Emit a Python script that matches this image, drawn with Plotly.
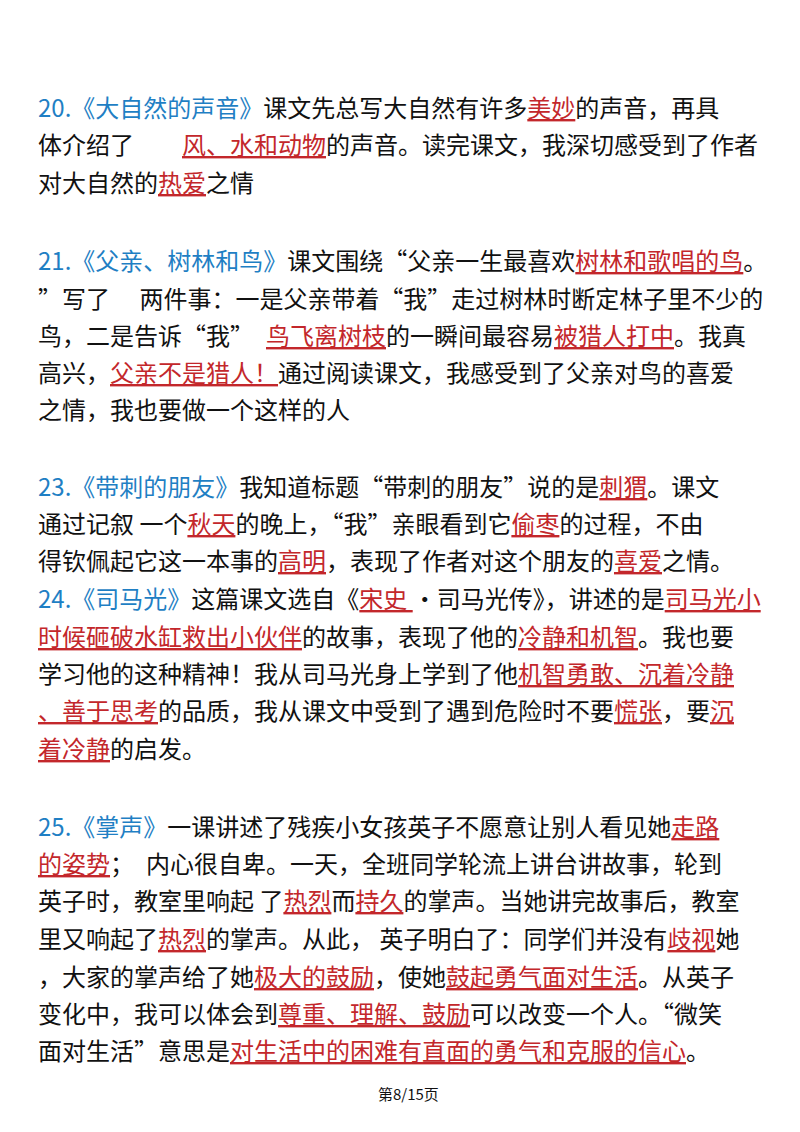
import plotly.graph_objects as go
import re

BLUE = "#1f7fc4"
RED = "#c3272b"
BLACK = "#111111"

lines = [
    "[20.《大自然的声音》]课文先总写大自然有许多{美妙}的声音，再具",
    "体介绍了　　{风、水和动物}的声音。读完课文，我深切感受到了作者",
    "对大自然的{热爱}之情",
    "[21.《父亲、树林和鸟》]课文围绕“父亲一生最喜欢{树林和歌唱的鸟}。",
    "”写了　 两件事：一是父亲带着“我”走过树林时断定林子里不少的",
    "鸟，二是告诉“我”　{鸟飞离树枝}的一瞬间最容易{被猎人打中}。我真",
    "高兴，{父亲不是猎人！}通过阅读课文，我感受到了父亲对鸟的喜爱",
    "之情，我也要做一个这样的人",
    "[23.《带刺的朋友》]我知道标题“带刺的朋友”说的是{刺猬}。课文",
    "通过记叙 一个{秋天}的晚上，“我”亲眼看到它{偷枣}的过程，不由",
    "得钦佩起它这一本事的{高明}，表现了作者对这个朋友的{喜爱}之情。",
    "[24.《司马光》]这篇课文选自《{宋史 }·司马光传》，讲述的是{司马光小}",
    "{时候砸破水缸救出小伙伴}的故事，表现了他的{冷静和机智}。我也要",
    "学习他的这种精神！我从司马光身上学到了他{机智勇敢、沉着冷静}",
    "{、善于思考}的品质，我从课文中受到了遇到危险时不要{慌张}，要{沉}",
    "{着冷静}的启发。",
    "[25.《掌声》]一课讲述了残疾小女孩英子不愿意让别人看见她{走路}",
    "{的姿势}；　内心很自卑。一天，全班同学轮流上讲台讲故事，轮到",
    "英子时，教室里响起 了{热烈}而{持久}的掌声。当她讲完故事后，教室",
    "里又响起了{热烈}的掌声。从此， 英子明白了：同学们并没有{歧视}她",
    "，大家的掌声给了她{极大的鼓励}，使她{鼓起勇气面对生活}。从英子",
    "变化中，我可以体会到{尊重、理解、鼓励}可以改变一个人。“微笑",
    "面对生活”意思是{对生活中的困难有直面的勇气和克服的信心}。",
]
line_y = [98, 135, 173, 251, 289, 326, 363, 400, 477, 514, 551,
          589, 627, 664, 701, 739, 817, 854, 891, 929, 967, 1004, 1041]
footer = "第8/15页"

def markup(s):
    s = re.sub(r"\[(.*?)\]", lambda m: f"<span style='color:{BLUE}'>{m.group(1)}</span>", s)
    s = re.sub(r"\{(.*?)\}", lambda m: f"<span style='color:{RED}'><u>{m.group(1)}</u></span>", s)
    return s

fig = go.Figure()
for t, y in zip(lines, line_y):
    fig.add_annotation(x=28, y=y, text=markup(t), showarrow=False, xanchor="left",
                       yanchor="middle", font=dict(size=24, color=BLACK,
                       family="Noto Sans CJK SC"))
fig.add_annotation(x=400, y=1085, text=footer, showarrow=False, xanchor="center",
                   yanchor="middle", font=dict(size=15, color=BLACK, family="Noto Sans CJK SC"))
fig.update_xaxes(range=[0, 800], visible=False)
fig.update_yaxes(range=[1132, 0], visible=False)
fig.update_layout(width=800, height=1132, margin=dict(l=0, r=0, t=0, b=0),
                  paper_bgcolor="white", plot_bgcolor="white", showlegend=False)
fig.write_html("out.html")
